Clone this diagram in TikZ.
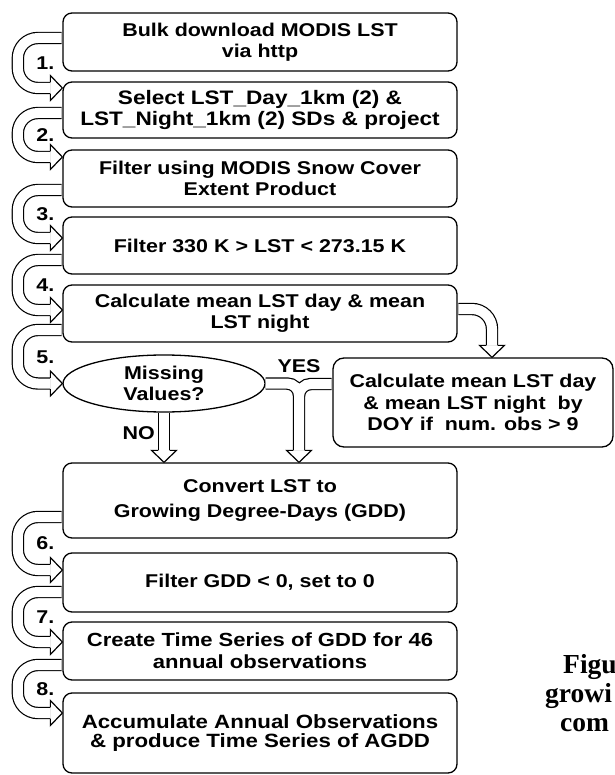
\documentclass[tikz,border=0pt]{standalone}
\usepackage{fontspec}
\setmainfont[FakeStretch=1.16]{Liberation Sans}
\newfontfamily\capfont{Liberation Serif}
\usetikzlibrary{positioning, calc, shapes.geometric}

\newcommand\flowfont{\bfseries\fontsize{18.5}{21.5}\selectfont}
\tikzset{
  stepbox/.style={draw, line width=1.3pt, rounded corners=9pt, minimum width=394,
    inner sep=0pt, align=center, font=\flowfont},
  ask/.style={draw, ellipse, line width=1.3pt, minimum width=202, minimum height=57,
    inner sep=0pt, align=center, font=\flowfont},
  lbl/.style={inner sep=0pt, font=\flowfont},
  hollow/.style={double=white, double distance=10pt, line width=1.2pt, shorten <=0.65pt},
  hhead/.pic={\filldraw[fill=white, line width=1.2pt] (-12,5.6) -- (-12,12.5) -- (0,0) -- (-12,-12.5) -- (-12,-5.6);},
  capline/.style={anchor=base west, inner sep=0pt, font=\capfont\bfseries\fontsize{27.5}{30}\selectfont},
}

\begin{document}
\begin{tikzpicture}[x=1pt, y=-1pt]
  \useasboundingbox (0,0) rectangle (614,775);
  % processing steps
  \node[stepbox, minimum height=58] (b1) at (260,42) {Bulk download MODIS LST\\via http};
  \node[stepbox, minimum height=56, font=\bfseries\fontsize{19.5}{21.5}\selectfont] (b2) at (260,110) {Select LST\_Day\_1km (2) \&\\LST\_Night\_1km (2) SDs \& project};
  \node[stepbox, minimum height=57] (b3) at (260,178.5) {Filter using MODIS Snow Cover\\Extent Product};
  \node[stepbox, minimum height=57] (b4) at (260,245.5) {Filter 330 K > LST < 273.15 K};
  \node[stepbox, minimum height=57] (b5) at (260,313.5) {Calculate mean LST day \& mean\\LST night};
  \node[ask] (ask) at (164,383.5) {Missing\\Values?};
  \node[stepbox, minimum width=280, minimum height=89, rounded corners=11pt] (doy) at (473,402.5) {Calculate mean LST day\\\& mean LST night\ \ by\\DOY if\ \ num. obs > 9};
  \node[stepbox, minimum height=75] (b6) at (260,500.5) {Convert LST to\\[4pt]Growing Degree-Days (GDD)};
  \node[stepbox, minimum height=59] (b7) at (260,582.5) {Filter GDD < 0, set to 0};
  \node[stepbox, minimum height=58, font=\bfseries\fontsize{19}{22}\selectfont] (b8) at (260,651) {Create Time Series of GDD for 46\\annual observations};
  \node[stepbox, minimum height=80, font=\bfseries\fontsize{19.2}{19.5}\selectfont] (b9) at (260,733) {Accumulate Annual Observations\\\& produce Time Series of AGDD};

  % numbered loop arrows on the left
  \foreach \from/\to/\ds/\dt/\num in {b1/b2/-4/-22/1, b2/b3/3/-21.5/2, b3/b4/11.5/-7.5/3,
      b4/b5/14.5/-3.5/4, b5/ask/16.5/0/5, b6/b7/16.5/-12.5/6, b7/b8/9.5/-9/7, b8/b9/14/-20/8}{
    \coordinate (s) at ($(\from.west)+(0,\ds)$);
    \coordinate (t) at ($(\to.west)+(0,\dt)$);
    \draw[hollow, rounded corners=20pt] (s) -| ($(t)+(-44.5,0)$) -- ($(t)+(-12,0)$);
    \pic at (t) {hhead};
    \node[lbl] at ($(s)!0.5!(t)+(-17,0)$) {\num.};
  }

  % side branch
  \coordinate (r) at ($(doy.north)+(19,0)$);
  \draw[hollow, rounded corners=20pt] ($(b5.east)+(0,-4.5)$) -| ($(r)+(0,-12)$);
  \pic[rotate=-90] at (r) {hhead};

  % YES / NO
  \coordinate (yj) at ($(ask.east)!0.5!(doy.west)$);
  \draw[hollow, rounded corners=12pt] (ask.east) -| ($(yj |- b6.north)+(0,-12)$)
    ($(doy.west)+(0,-18.5)$) -| ($(yj |- b6.north)+(0,-12)$);
  \pic[rotate=-90] at (yj |- b6.north) {hhead};
  \draw[hollow] (ask.south) -- ($(ask.south |- b6.north)+(0,-12)$);
  \pic[rotate=-90] at (ask.south |- b6.north) {hhead};
  \node[lbl] (yes) at ($(yj |- ask.east)+(0,-17)$) {YES};
  \node[lbl, anchor=east] (no) at ($(ask.south)+(-9,20)$) {NO};

  % caption, cut off at the edge
  \node[capline] (cap1) at (563,673) {Figu};
  \node[capline] (cap2) at (545,702) {growi};
  \node[capline] (cap3) at (560,731) {com};
\end{tikzpicture}
\end{document}
